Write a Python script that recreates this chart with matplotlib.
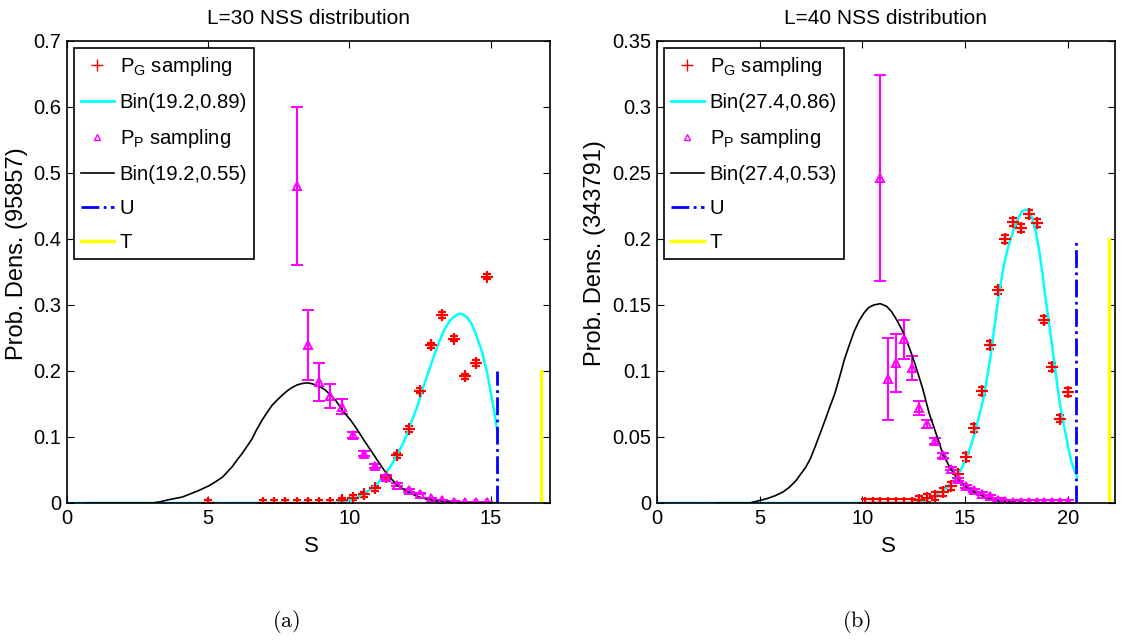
import matplotlib
matplotlib.use('Agg')
import matplotlib.pyplot as plt
from matplotlib.lines import Line2D
from matplotlib.ticker import FuncFormatter

plt.rcParams['font.family'] = ['Liberation Sans', 'DejaVu Sans']
plt.rcParams['mathtext.fontset'] = 'custom'
plt.rcParams['mathtext.rm'] = 'Liberation Sans'

# ---------------- L=30 panel ----------------
pg30_x = [5.0, 6.94, 7.34, 7.73, 8.13, 8.53, 8.93, 9.32, 9.72, 10.12, 10.51, 10.91,
          11.31, 11.70, 12.10, 12.50, 12.90, 13.29, 13.69, 14.09, 14.48, 14.88]
pg30_y = [0, 0, 0, 0, 0, 0, 0, 0, 0.004, 0.008, 0.013, 0.022,
          0.039, 0.072, 0.112, 0.170, 0.239, 0.285, 0.249, 0.192, 0.212, 0.343]

pp30_x = [8.13, 8.53, 8.93, 9.32, 9.72, 10.12, 10.51, 10.91, 11.31, 11.70, 12.10,
          12.50, 12.90, 13.29, 13.69, 14.09, 14.48, 14.88]
pp30_y = [0.480, 0.240, 0.183, 0.162, 0.146, 0.103, 0.075, 0.056, 0.040, 0.028, 0.019,
          0.014, 0.007, 0.004, 0.002, 0.001, 0.001, 0.001]
pp30_err = [0.120, 0.053, 0.029, 0.018, 0.011, 0.005, 0.004, 0.003, 0.003, 0.002, 0.002,
            0.001, 0.001, 0.001, 0.001, 0.001, 0.001, 0.001]

bin30g_x = [0, 9.4, 9.7, 10.0, 10.25, 10.5, 10.75, 11.0, 11.2, 11.45, 11.7, 11.95, 12.15,
            12.4, 12.6, 12.85, 13.1, 13.35, 13.55, 13.7, 13.88, 14.0, 14.15, 14.33, 14.5,
            14.7, 14.88, 15.05, 15.22]
bin30g_y = [0, 0, 0.001, 0.004, 0.008, 0.014, 0.021, 0.030, 0.041, 0.055, 0.074, 0.095,
            0.118, 0.146, 0.174, 0.205, 0.236, 0.262, 0.276, 0.282, 0.287, 0.286, 0.282,
            0.271, 0.253, 0.228, 0.196, 0.157, 0.113]

bin30p_x = [0.7, 3.0, 3.26, 3.6, 4.08, 4.67, 5.02, 5.25, 5.5, 5.85, 6.0, 6.2, 6.55, 6.7,
            6.9, 7.08, 7.26, 7.44, 7.61, 7.8, 7.97, 8.15, 8.32, 8.5, 8.65, 8.79, 8.97,
            9.15, 9.32, 9.5, 9.65, 9.8, 10.05, 10.28, 10.5, 10.75, 11.0, 11.22, 11.45,
            11.69, 11.9, 12.16, 12.4, 12.64, 12.9, 13.11, 13.35, 13.58, 14.05, 15.22]
bin30p_y = [0, 0, 0.0015, 0.005, 0.009, 0.019, 0.026, 0.032, 0.039, 0.055, 0.064, 0.075,
            0.097, 0.110, 0.125, 0.137, 0.148, 0.156, 0.163, 0.170, 0.175, 0.179, 0.181,
            0.182, 0.181, 0.179, 0.176, 0.171, 0.164, 0.156, 0.147, 0.138, 0.125, 0.111,
            0.096, 0.080, 0.064, 0.050, 0.038, 0.027, 0.021, 0.0147, 0.010, 0.007,
            0.0045, 0.003, 0.002, 0.001, 0, 0]

u30, t30 = 15.22, 16.78

# ---------------- L=40 panel ----------------
pg40_x = [10.12, 10.50, 10.88, 11.26, 11.64, 12.02, 12.40, 12.78, 13.16, 13.54, 13.92,
          14.30, 14.68, 15.06, 15.44, 15.82, 16.20, 16.58, 16.96, 17.34, 17.72, 18.10,
          18.48, 18.86, 19.24, 19.62, 20.00]
pg40_y = [0, 0, 0, 0, 0, 0, 0, 0.002, 0.004, 0.0056, 0.008,
          0.013, 0.022, 0.035, 0.057, 0.085, 0.120, 0.161, 0.200, 0.213, 0.208, 0.219,
          0.212, 0.139, 0.103, 0.064, 0.084]

pp40_x = [10.88, 11.26, 11.64, 12.02, 12.40, 12.78, 13.16, 13.54, 13.92, 14.30, 14.68,
          15.06, 15.44, 15.82, 16.20, 16.58, 16.96, 17.34, 17.72, 18.10, 18.48, 18.86,
          19.24, 19.62, 20.00]
pp40_y = [0.246, 0.094, 0.106, 0.124, 0.102, 0.072, 0.060, 0.047, 0.036, 0.026, 0.018,
          0.0127, 0.0096, 0.007, 0.005, 0.0025, 0.0015, 0.001, 0.001, 0.001, 0.001, 0.001,
          0.001, 0.001, 0.001]
pp40_err = [0.078, 0.031, 0.022, 0.015, 0.009, 0.005, 0.003, 0.002, 0.002, 0.001, 0.001,
            0.001, 0.001, 0.001, 0.001, 0.001, 0.001, 0.001, 0.001, 0.001, 0.001, 0.001,
            0.001, 0.001, 0.001]

bin40g_x = [0, 12.5, 12.93, 13.35, 13.74, 14.15, 14.55, 14.8, 15.03, 15.28, 15.52, 15.72,
            15.92, 16.08, 16.25, 16.41, 16.57, 16.73, 16.89, 17.05, 17.22, 17.38, 17.54,
            17.66, 17.78, 17.9, 18.03, 18.15, 18.27, 18.43, 18.59, 18.75, 18.9, 19.07,
            19.24, 19.4, 19.56, 19.72, 19.89, 20.05, 20.2, 20.45]
bin40g_y = [0, 0, 0.001, 0.004, 0.0076, 0.012, 0.019, 0.025, 0.033, 0.043, 0.056, 0.068,
            0.081, 0.096, 0.112, 0.131, 0.150, 0.166, 0.180, 0.191, 0.200, 0.208, 0.214,
            0.218, 0.221, 0.222, 0.222, 0.220, 0.216, 0.206, 0.193, 0.176, 0.157, 0.138,
            0.119, 0.100, 0.081, 0.066, 0.053, 0.040, 0.030, 0.020]

bin40p_x = [2.85, 4.5, 4.72, 5.35, 5.75, 6.14, 6.45, 6.77, 7.0, 7.24, 7.48, 7.71, 7.95,
            8.19, 8.42, 8.66, 8.9, 9.13, 9.37, 9.6, 9.84, 10.08, 10.3, 10.55, 10.87,
            11.18, 11.42, 11.66, 11.9, 12.13, 12.37, 12.6, 12.93, 13.25, 13.58, 13.9,
            14.22, 14.55, 15.03, 15.52, 16.17, 16.8, 17.46, 18.0, 20.45]
bin40p_y = [0, 0, 0.0008, 0.0033, 0.0055, 0.0084, 0.012, 0.017, 0.022, 0.027, 0.034,
            0.043, 0.053, 0.063, 0.073, 0.083, 0.096, 0.109, 0.120, 0.130, 0.138, 0.144,
            0.148, 0.150, 0.151, 0.149, 0.145, 0.139, 0.132, 0.124, 0.114, 0.1035, 0.087,
            0.068, 0.053, 0.038, 0.028, 0.020, 0.0127, 0.0076, 0.003, 0.0013, 0.0005, 0, 0]

u40, t40 = 20.40, 22.02

panels = [
    dict(title='L=30 NSS distribution', ylabel='Prob. Dens. (95857)',
         pg=(pg30_x, pg30_y, 0.004), pp=(pp30_x, pp30_y, pp30_err),
         bg=(bin30g_x, bin30g_y, 'Bin(19.2,0.89)'), bp=(bin30p_x, bin30p_y, 'Bin(19.2,0.55)'),
         u=u30, t=t30, xlim=17.1, ylim=0.7, ystep=0.1, xticks=[0, 5, 10, 15],
         rect=[67 / 1134, 140 / 643, 483 / 1134, 462 / 643], tag='(a)', tagx=286 / 1134,
         ylx=-0.08),
    dict(title='L=40 NSS distribution', ylabel='Prob. Dens. (343791)',
         pg=(pg40_x, pg40_y, 0.003), pp=(pp40_x, pp40_y, pp40_err),
         bg=(bin40g_x, bin40g_y, 'Bin(27.4,0.86)'), bp=(bin40p_x, bin40p_y, 'Bin(27.4,0.53)'),
         u=u40, t=t40, xlim=22.3, ylim=0.35, ystep=0.05, xticks=[0, 5, 10, 15, 20],
         rect=[657 / 1134, 140 / 643, 458 / 1134, 462 / 643], tag='(b)', tagx=857 / 1134,
         ylx=-0.112),
]

fig = plt.figure(figsize=(11.34, 6.43), dpi=100)

for p in panels:
    ax = fig.add_axes(p['rect'])
    ytop = p['ylim']

    ax.errorbar(p['pg'][0], p['pg'][1], yerr=p['pg'][2], fmt='+', color='red',
                ms=8, mew=1.6, elinewidth=1.6, capsize=3, capthick=1.6)
    ax.plot(p['bg'][0], p['bg'][1], color='cyan', lw=1.8)
    ax.errorbar(p['pp'][0], p['pp'][1], yerr=p['pp'][2], fmt='^', color='magenta',
                mfc='none', ms=6, mew=1.4, elinewidth=1.5, capsize=4, capthick=1.5)
    ax.plot(p['bp'][0], p['bp'][1], color='black', lw=1.2)
    ax.plot([p['u'], p['u']], [0, 0.2], color='blue', ls='-.', lw=2)
    ax.plot([p['t'], p['t']], [0, 0.2], color='yellow', lw=2.5)

    ax.set_xlim(0, p['xlim'])
    ax.set_ylim(0, ytop)
    ax.set_xticks(p['xticks'])
    nstep = int(round(ytop / p['ystep']))
    ax.set_yticks([round(i * p['ystep'], 2) for i in range(nstep + 1)])
    ax.yaxis.set_major_formatter(FuncFormatter(lambda v, pos: '%g' % round(v, 2)))
    ax.tick_params(direction='in', top=True, right=True, length=5, width=0.8,
                   labelsize=14.5, pad=4)
    for s in ax.spines.values():
        s.set_linewidth(1.2)

    ax.set_title(p['title'], fontsize=15, pad=12)
    ax.set_xlabel('S', fontsize=16)
    ax.xaxis.set_label_coords(0.505, -0.072)
    ax.set_ylabel(p['ylabel'], fontsize=17)
    ax.yaxis.set_label_coords(p['ylx'], 0.54)

    handles = [
        Line2D([], [], ls='none', marker='+', color='red', ms=8, mew=1),
        Line2D([], [], color='cyan', lw=2),
        Line2D([], [], ls='none', marker='^', color='magenta', mfc='none', ms=5, mew=1),
        Line2D([], [], color='black', lw=1.2),
        Line2D([], [], color='blue', ls='-.', lw=2),
        Line2D([], [], color='yellow', lw=2.5),
    ]
    labels = [r'$\mathregular{P_G}$ sampling', p['bg'][2],
              r'$\mathregular{P_P}$ sampling', p['bp'][2], 'U', 'T']
    leg = ax.legend(handles, labels, loc='upper left', fontsize=14.6, fancybox=False,
                    framealpha=1, edgecolor='black', borderaxespad=0.35,
                    handlelength=1.6, handletextpad=0.3, labelspacing=0.74,
                    borderpad=0.35)
    leg.get_frame().set_linewidth(1.2)

    fig.text(p['tagx'], 0.033, r'$\mathrm{%s}$' % p['tag'], fontsize=16,
             math_fontfamily='cm', ha='center', va='center')

fig.savefig('out.png', dpi=100)
